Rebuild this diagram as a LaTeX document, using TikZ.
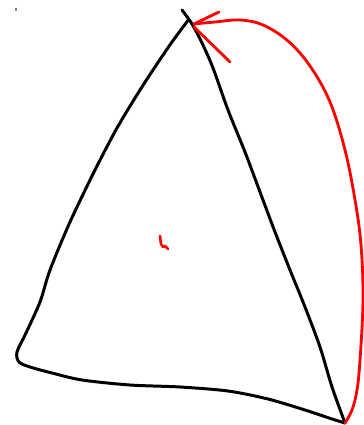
\documentclass[tikz,border=0pt]{standalone}
\usepackage{tikz}
\usetikzlibrary{calc}
\definecolor{skink}{HTML}{000000}
\definecolor{skred}{HTML}{FF0000}
\tikzset{
  skline/.style={draw=skink, line width=1.7pt, line cap=round, line join=round},
  skredline/.style={draw=skred, line width=1.6pt, line cap=round, line join=round},
}
\begin{document}
\begin{tikzpicture}[x=0.02cm, y=-0.02cm]
  \useasboundingbox (0,0) rectangle (364,425);
  % corners of the sketched triangle
  \coordinate (apex)  at (189,19);
  \coordinate (lower) at (345,423);
  % tiny grey speck
  \draw[gray, line width=0.6pt] (16,8) -- (16,11);
  % left side and base
  \draw[skline] plot[smooth, tension=0.5] coordinates {
    (apex) (172,42) (157,64) (140,90) (117,128) (95,170) (70,222)
    (50,270) (40,302) (26,333) (17,352) (19,362) (30,367) (52,373)
    (82,380) (130,385) (180,387) (228,391) (268,399) (305,410)
    (332,419) (lower)};
  % right side, with the overshoot at the top
  \draw[skline] plot[smooth, tension=0.5] coordinates {
    (182,10) (192,24) (202,43) (213,68) (228,110) (245,152) (260,192)
    (275,232) (290,270) (305,307) (320,347) (332,387) (lower)};
  % red curved arrow back to the apex
  \draw[skredline] plot[smooth, tension=0.6] coordinates {
    (lower) (352,410) (357,390) (360,360) (363,300) (361,245)
    (355,200) (345,150) (330,102) (310,66) (288,41) (263,25)
    (240,20) (215,22) (194,24)};
  \draw[skredline] (194,24) -- (219,12);
  \draw[skredline] (194,27) -- (230,62);
  % small red squiggle
  \draw[skredline, line width=1.5pt] (160,236) -- (161,244) -- (163,247)
    -- (165,246) -- (168,249);
\end{tikzpicture}
\end{document}
